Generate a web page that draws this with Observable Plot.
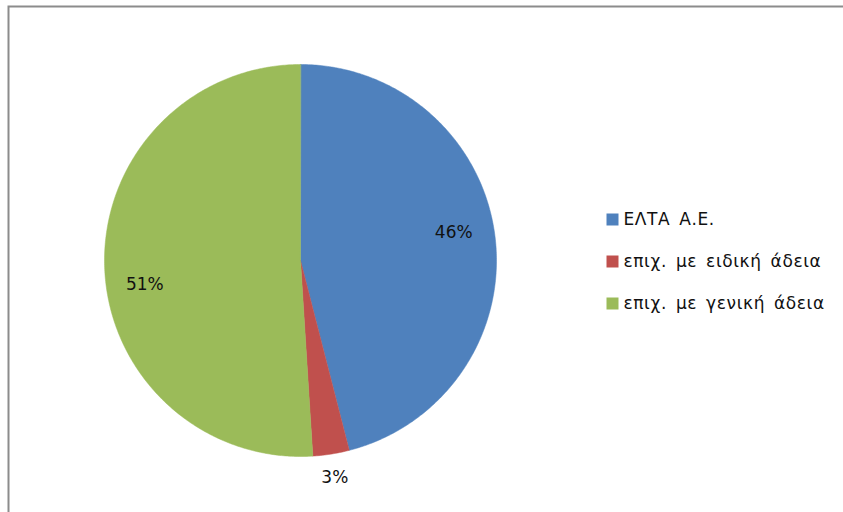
<!DOCTYPE html>
<html><head><meta charset="utf-8">
<script src="https://cdn.jsdelivr.net/npm/d3@7"></script>
<script src="https://cdn.jsdelivr.net/npm/@observablehq/plot@0.6"></script>
<style>
body{margin:0;background:#fff}
#chart{position:relative;width:843px;height:512px}
</style>
</head><body><div id="chart"></div>
<script>
const categories = ["ΕΛΤΑ Α.Ε.", "επιχ. με ειδική άδεια", "επιχ. με γενική άδεια"];
const values = [46, 3, 51];
const colors = ["#4F81BD", "#C0504D", "#9BBB59"];

const W = 843, H = 512, CX = 300, CY = 260, R = 196;
const total = d3.sum(values);
const arcs = d3.pie().sort(null).value(d => d.value)(categories.map((name, i) => ({name, value: values[i]})));
const slicePts = [];
arcs.forEach(a => {
  const n = Math.max(2, Math.ceil((a.endAngle - a.startAngle) / 0.01));
  slicePts.push({name: a.data.name, x: CX, y: CY});
  for (let k = 0; k <= n; k++) {
    const t = a.startAngle + (a.endAngle - a.startAngle) * k / n;
    slicePts.push({name: a.data.name, x: CX + R * Math.sin(t), y: CY - R * Math.cos(t)});
  }
});
const labels = arcs.map(a => {
  const mid = (a.startAngle + a.endAngle) / 2;
  const small = a.data.value / total < 0.05;
  const ang = small ? mid : mid - 5 * Math.PI / 180;
  const r = small ? R * 1.12 : R * 0.8;
  return {
    text: Math.round(a.data.value / total * 100) + "%",
    x: CX + r * Math.sin(ang),
    y: CY - r * Math.cos(ang) + (small ? 0 : 5)
  };
});
const LX = 612, LY = 219, LDY = 42;

const chart = Plot.plot({
  width: W, height: H, margin: 0,
  x: {type: "identity", axis: null},
  y: {type: "identity", axis: null},
  color: {domain: categories, range: colors},
  style: {fontFamily: "DejaVu Sans", background: "transparent", overflow: "hidden"},
  marks: [
    Plot.line(slicePts, {x: "x", y: "y", z: "name", fill: "name", stroke: "name", strokeWidth: 0.5, curve: "linear-closed"}),
    Plot.text(labels, {x: "x", y: "y", text: "text", fontSize: 17, fill: "#111"}),
    Plot.dot(categories, {x: () => LX, y: (d, i) => LY + i * LDY, symbol: "square", r: 12 / Math.sqrt(Math.PI), fill: d => d, stroke: null}),
    Plot.text(categories, {x: () => LX + 11, y: (d, i) => LY + i * LDY, text: d => d, textAnchor: "start", fontSize: 17, fill: "#111"}),
    Plot.frame({insetLeft: 8, insetTop: 6, insetRight: -20, insetBottom: -20, stroke: "#8c8c8c", strokeWidth: 2})
  ]
});
d3.select(chart).selectAll("text")
  .filter(function() { return categories.includes(this.textContent); })
  .style("letter-spacing", "0.6px")
  .style("word-spacing", "3px");
document.getElementById("chart").append(chart);
</script></body></html>
